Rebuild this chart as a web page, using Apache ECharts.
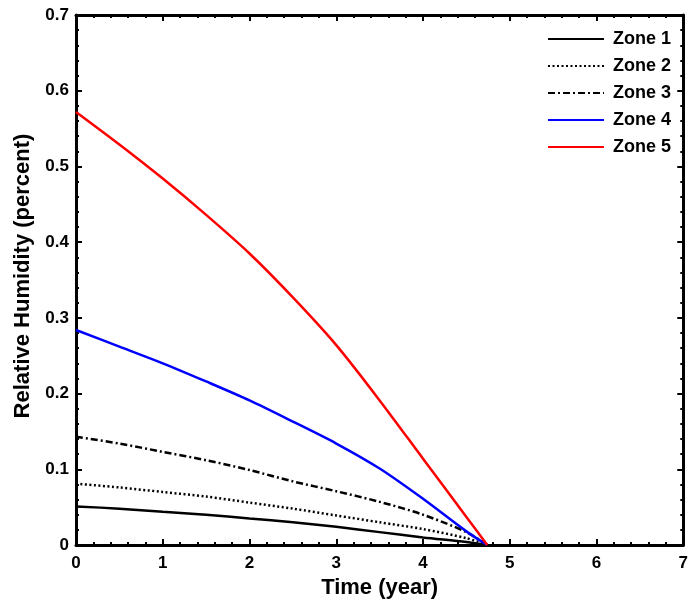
<!DOCTYPE html>
<html>
<head>
<meta charset="utf-8">
<script src="https://cdn.jsdelivr.net/npm/echarts@6/dist/echarts.min.js"></script>
<style>html,body{margin:0;padding:0;background:#fff;}#c{width:691px;height:605px;}</style>
</head>
<body>
<div id="c"></div>
<script>
const years = [0, 0.5, 1, 1.5, 2, 2.5, 3, 3.5, 4, 4.5, 4.74];
const zone1 = [0.051, 0.048, 0.044, 0.040, 0.035, 0.030, 0.024, 0.017, 0.010, 0.004, 0];
const zone2 = [0.081, 0.076, 0.070, 0.064, 0.056, 0.048, 0.039, 0.030, 0.021, 0.009, 0];
const zone3 = [0.143, 0.134, 0.123, 0.112, 0.099, 0.084, 0.071, 0.057, 0.040, 0.017, 0];
const zone4 = [0.284, 0.262, 0.240, 0.216, 0.191, 0.163, 0.134, 0.101, 0.061, 0.018, 0];
const zone5 = [0.572, 0.529, 0.484, 0.436, 0.385, 0.327, 0.264, 0.191, 0.114, 0.037, 0];
const seriesNames = ['Zone 1', 'Zone 2', 'Zone 3', 'Zone 4', 'Zone 5'];
const xTicks = ['0','1','2','3','4','5','6','7'];

const FONT = 'Liberation Sans, Arial, sans-serif';
const zones = [zone1, zone2, zone3, zone4, zone5];
const styles = [
  {color: '#000', type: 'solid'},
  {color: '#000', type: [2, 2.5]},
  {color: '#000', type: [7, 3, 2, 3]},
  {color: '#0000ff', type: 'solid'},
  {color: '#ff0000', type: 'solid'}
];

const axisCommon = {
  axisLine: {show: true, onZero: false, lineStyle: {color: '#000', width: 3}},
  axisTick: {show: true, inside: true, length: 6, lineStyle: {color: '#000', width: 2}},
  minorTick: {show: true, splitNumber: 5, length: 3, lineStyle: {color: '#000', width: 2}},
  splitLine: {show: false}
};

const chart = echarts.init(document.getElementById('c'), null, {renderer: 'canvas'});
chart.setOption({
  backgroundColor: '#fff',
  animation: false,
  grid: {left: 76, right: 4, top: 15, bottom: 60},
  legend: {
    orient: 'vertical', left: 547, top: 30, itemGap: 9, padding: 0,
    itemWidth: 56, itemHeight: 14,
    data: seriesNames,
    itemStyle: {opacity: 0},
    textStyle: {fontFamily: FONT, fontWeight: 'bold', fontSize: 18, color: '#000', padding: [0, 0, 0, 4]}
  },
  xAxis: [
    Object.assign({type: 'value', min: 0, max: 7, interval: 1, position: 'bottom',
      name: 'Time (year)', nameLocation: 'middle', nameGap: 31,
      nameTextStyle: {fontFamily: FONT, fontWeight: 'bold', fontSize: 22, color: '#000'},
      axisLabel: {margin: 10, fontFamily: FONT, fontWeight: 'bold', fontSize: 17, color: '#000',
        formatter: v => xTicks[Math.round(v)]}}, axisCommon),
    Object.assign({type: 'value', min: 0, max: 7, interval: 1, position: 'top',
      axisLabel: {show: false}}, axisCommon)
  ],
  yAxis: [
    Object.assign({type: 'value', min: 0, max: 0.7, interval: 0.1, position: 'left',
      name: 'Relative Humidity (percent)', nameLocation: 'middle', nameGap: 42,
      nameTextStyle: {fontFamily: FONT, fontWeight: 'bold', fontSize: 22, color: '#000', padding: [0, 0, 0, 8]},
      axisLabel: {margin: 7, fontFamily: FONT, fontWeight: 'bold', fontSize: 17, color: '#000'}}, axisCommon),
    Object.assign({type: 'value', min: 0, max: 0.7, interval: 0.1, position: 'right',
      axisLabel: {show: false}}, axisCommon)
  ],
  series: zones.map((z, i) => ({
    name: seriesNames[i],
    type: 'line',
    smooth: 0.3,
    symbol: 'none',
    xAxisIndex: 0, yAxisIndex: 0,
    data: years.map((x, k) => [x, z[k]]),
    itemStyle: {color: styles[i].color},
    lineStyle: {color: styles[i].color, width: 2.5, type: styles[i].type}
  }))
});
</script>
</body>
</html>
